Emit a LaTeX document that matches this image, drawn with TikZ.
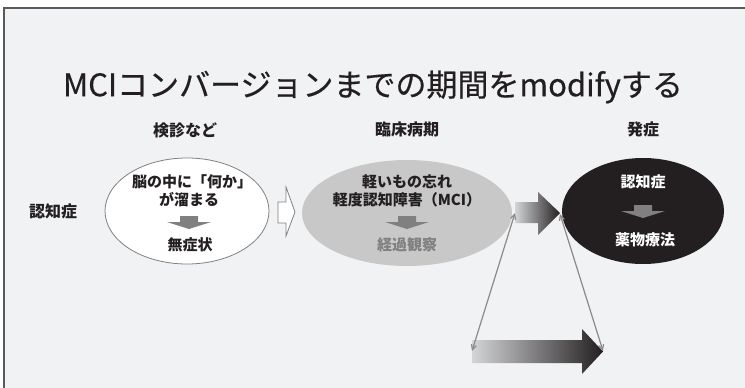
\documentclass[tikz,border=0pt]{standalone}
\usepackage{fontspec}
\setmainfont{Noto Sans CJK JP}
\newfontfamily\titlefont[FakeBold=0.4]{Noto Sans CJK JP}
\usetikzlibrary{shapes.geometric,arrows.meta}
\definecolor{bg}{HTML}{F1F2F4}
\definecolor{framec}{HTML}{5A5A5A}
\definecolor{ink}{HTML}{231F20}
\definecolor{midgray}{HTML}{808080}
\definecolor{ellgray}{HTML}{C8C8C8}
\definecolor{linegray}{HTML}{8A8A8A}
\definecolor{gradlight}{HTML}{D4D5D7}
\begin{document}
\begin{tikzpicture}[x=1pt,y=-1pt,
  lab/.style={inner sep=0pt, text=ink, font=\fontsize{16}{16}\selectfont\bfseries},
  etext/.style={inner sep=0pt, text=ink, font=\fontsize{15}{15}\selectfont\bfseries},
  wtext/.style={etext, text=white},
  gtext/.style={etext, text=midgray},
  dnarr/.pic={\fill[midgray] (-9,-6.5) -- (9,-6.5) -- (9,-0.5) -- (22,-0.5) -- (0,6.5) -- (-22,-0.5) -- (-9,-0.5) -- cycle;},
  link/.style={draw=linegray, line width=1.2pt, {Straight Barb[length=5pt,width=5pt]}-{Straight Barb[length=5pt,width=5pt]}}
]
\useasboundingbox (0,0) rectangle (745,388);
\fill[white] (0,0) rectangle (745,388);
\fill[bg] (3,7) rectangle (745,388);
\draw[framec, line width=1.5pt] (3.75,388) -- (3.75,7.75) -- (745,7.75);

\node[inner sep=0pt, text=ink, font=\fontsize{31}{31}\selectfont\titlefont] (title) at (373,87) {MCIコンバージョンまでの期間をmodifyする};

\node[lab] (l0) at (53,211) {認知症};
\node[lab] (l1) at (185,130) {検診など};
\node[lab] (l2) at (407,129) {臨床病期};
\node[lab] (l3) at (643,129) {発症};

% ellipses
\node[ellipse, draw=midgray, fill=white, line width=0.8pt, minimum width=164pt, minimum height=106pt, inner sep=0pt] (e1) at (187,211) {};
\node[ellipse, fill=ellgray, minimum width=210pt, minimum height=106pt, inner sep=0pt] (e2) at (407,213) {};
\node[ellipse, fill=ink, minimum width=162pt, minimum height=106pt, inner sep=0pt] (e3) at (643,211) {};

% ellipse 1 text
\node[etext] (t1a) at (192,182) {脳の中に「何か」};
\node[etext] (t1b) at (189,200) {が溜まる};
\pic at (189,222.5) {dnarr};
\node[etext] (t1c) at (190,245) {無症状};

% ellipse 2 text
\node[etext] (t2a) at (407,182) {軽いもの忘れ};
\node[etext] (t2b) at (407,200) {軽度認知障害（MCI）};
\pic at (407,222.5) {dnarr};
\node[gtext] (t2c) at (407,245) {経過観察};

% ellipse 3 text
\node[wtext] (t3a) at (643,182) {認知症};
\node[wtext] (t3b) at (645,240) {薬物療法};
\pic at (643,211.5) {dnarr};

% hollow arrow
\draw[fill=white, draw=midgray, line width=0.8pt] (278,202) -- (286,202) -- (286,187) -- (295,212) -- (286,236) -- (286,223) -- (278,223) -- cycle;

% gradient arrows
\shade[left color=gradlight, right color=ink] (515,202) -- (538,202) -- (538,192) -- (560,213) -- (538,235) -- (538,223) -- (515,223) -- cycle;
\shade[left color=gradlight, right color=ink] (472,340) -- (582,340) -- (582,329) -- (603,351.5) -- (582,374) -- (582,363) -- (472,363) -- cycle;

\coordinate (a1tail) at (515,213);
\coordinate (a1tip) at (560,214);
\coordinate (a2tail) at (472,351);
\coordinate (a2tip) at (603,351);
\draw[link] (a1tail) -- (a2tail);
\draw[link] (a1tip) -- (a2tip);
\end{tikzpicture}
\end{document}
